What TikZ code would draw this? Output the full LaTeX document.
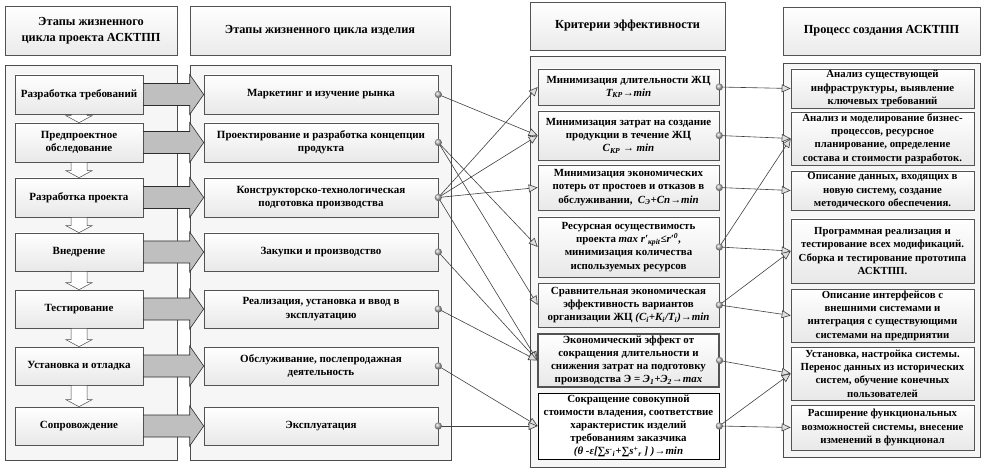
\documentclass[tikz,border=0pt]{standalone}
\usepackage{fontspec}
\setmainfont{Liberation Serif}
\usetikzlibrary{arrows.meta,calc,shadows}
\tikzset{
  shad/.style={drop shadow={shadow xshift=1.3pt,shadow yshift=-1.3pt,fill=gray!70,opacity=0.5}},
  hdr/.style={draw=gray!65!black, line width=0.6pt, top color=white, bottom color=gray!16, shad,
    align=center, inner sep=1pt, font=\fontsize{12.3}{15.5}\selectfont\bfseries},
  cont/.style={draw=gray!60!black, line width=0.6pt, fill=gray!7, shad},
  box/.style={draw=gray!65!black, line width=0.6pt, top color=white, bottom color=gray!18, shad,
    align=center, inner xsep=1pt, inner ysep=0pt, font=\fontsize{11}{13.3}\selectfont\bfseries},
  kbox/.style={box, font=\fontsize{10.9}{13.2}\selectfont\bfseries},
  pbox/.style={box, font=\fontsize{10.8}{13.3}\selectfont\bfseries},
  bigarr/.style={draw=gray!35!black, line width=0.6pt, fill=gray!50},
  downarr/.style={draw=gray!60!black, line width=0.5pt, fill=white},
  con/.style={draw=gray!50!black, line width=0.6pt, -{Triangle[length=9pt,width=8pt,fill=gray!25]}},
  dot/.style={ball color=gray!55}
}
\begin{document}
\begin{tikzpicture}[x=1pt,y=-1pt]
\useasboundingbox (0,0) rectangle (988,473);
% headers
\node[hdr, minimum width=172pt, minimum height=49pt] (h1) at (91,30.5) {Этапы жизненного\\цикла проекта АСКТПП};
\node[hdr, minimum width=260pt, minimum height=49pt] (h2) at (320,30.5) {Этапы жизненного цикла изделия};
\node[hdr, minimum width=195pt, minimum height=48pt] (h3) at (627.5,26) {Критерии эффективности};
\node[hdr, minimum width=197pt, minimum height=48pt] (h4) at (881.5,31) {Процесс создания АСКТПП};
% containers
\node[cont, minimum width=172pt, minimum height=395pt] (c1) at (91,262.5) {};
\node[cont, minimum width=261pt, minimum height=395pt] (c2) at (320.5,262.5) {};
\node[cont, minimum width=195pt, minimum height=411pt] (c3) at (627.5,261.5) {};
\node[cont, minimum width=197pt, minimum height=394pt] (c4) at (881.5,260) {};
% column 1
\node[box, minimum width=128pt, minimum height=39pt] (a1) at (79,94.5) {Разработка требований};
\node[box, minimum width=128pt, minimum height=39pt] (a2) at (79,142.5) {Предпроектное\\обследование};
\node[box, minimum width=128pt, minimum height=39pt] (a3) at (79,197.5) {Разработка проекта};
\node[box, minimum width=128pt, minimum height=38pt] (a4) at (79,252) {Внедрение};
\node[box, minimum width=128pt, minimum height=38pt] (a5) at (79,309) {Тестирование};
\node[box, minimum width=128pt, minimum height=38pt] (a6) at (79,366) {Установка и отладка};
\node[box, minimum width=128pt, minimum height=38pt] (a7) at (79,426) {Сопровождение};
% column 2
\node[box, minimum width=234pt, minimum height=39pt] (b1) at (321,94.5) {Маркетинг и изучение рынка};
\node[box, minimum width=234pt, minimum height=39pt] (b2) at (321,142.5) {Проектирование и разработка концепции\\продукта};
\node[box, minimum width=234pt, minimum height=39pt] (b3) at (321,197.5) {Конструкторско-технологическая\\подготовка производства};
\node[box, minimum width=234pt, minimum height=38pt] (b4) at (321,252) {Закупки и производство};
\node[box, minimum width=234pt, minimum height=38pt] (b5) at (321,309) {Реализация, установка и ввод в\\эксплуатацию};
\node[box, minimum width=234pt, minimum height=38pt] (b6) at (321,366) {Обслуживание, послепродажная\\деятельность};
\node[box, minimum width=234pt, minimum height=38pt] (b7) at (321,426) {Эксплуатация};
% column 3
\node[kbox, minimum width=181pt, minimum height=36pt] (k1) at (628.5,87) {Минимизация длительности ЖЦ\\\textit{T\textsubscript{КР}→min}};
\node[kbox, minimum width=181pt, minimum height=49pt] (k2) at (628.5,135.5) {Минимизация затрат на создание\\продукции в течение ЖЦ\\\textit{C\textsubscript{КР} → min}};
\node[kbox, minimum width=181pt, minimum height=45pt] (k3) at (628.5,187.5) {Минимизация экономических\\потерь от простоев и отказов в\\обслуживании, \ \textit{C\textsubscript{Э}+Cп→min}};
\node[kbox, minimum width=181pt, minimum height=60pt] (k4) at (628.5,247) {Ресурсная осуществимость\\проекта \textit{max r′\textsubscript{крit}≤r′\textsuperscript{0}},\\минимизация количества\\используемых ресурсов};
\node[kbox, minimum width=181pt, minimum height=44pt] (k5) at (628.5,305) {Сравнительная экономическая\\эффективность вариантов\\организации ЖЦ \textit{(C\textsubscript{i}+K\textsubscript{i}/T\textsubscript{i})→min}};
\node[kbox, line width=1.1pt, minimum width=181pt, minimum height=53pt] (k6) at (628.5,360.5) {Экономический эффект от\\сокращения длительности и\\снижения затрат на подготовку\\производства Э = \textit{Э\textsubscript{1}+Э\textsubscript{2}→max}};
\node[kbox, draw=black, top color=white, bottom color=white, minimum width=181pt, minimum height=66pt] (k7) at (628.5,426) {Сокращение совокупной\\стоимости владения, соответствие\\характеристик изделий\\требованиям заказчика\\\textit{(θ -ε[∑s\textsuperscript{-}\textsubscript{i}+∑s\textsuperscript{+}\textsubscript{r} ] )→min}};
% column 4
\node[pbox, minimum width=183pt, minimum height=39pt] (p1) at (882.5,88.5) {Анализ существующей\\инфраструктуры, выявление\\ключевых требований};
\node[pbox, minimum width=183pt, minimum height=53pt] (p2) at (882.5,138.5) {Анализ и моделирование бизнес-\\процессов, ресурсное\\планирование, определение\\состава и стоимости разработок.};
\node[pbox, minimum width=183pt, minimum height=39pt] (p3) at (882.5,190.5) {Описание данных, входящих в\\новую систему, создание\\методического обеспечения.};
\node[pbox, minimum width=183pt, minimum height=64pt] (p4) at (882.5,251) {Программная реализация и\\тестирование всех модификаций.\\Сборка и тестирование прототипа\\АСКТПП.};
\node[pbox, minimum width=183pt, minimum height=53pt] (p5) at (882.5,315.5) {Описание интерфейсов с\\внешними системами и\\интеграция с существующими\\системами на предприятии};
\node[pbox, minimum width=183pt, minimum height=53pt] (p6) at (882.5,373.5) {Установка, настройка системы.\\Перенос данных из исторических\\систем, обучение конечных\\пользователей};
\node[pbox, minimum width=183pt, minimum height=45pt] (p7) at (882.5,427.5) {Расширение функциональных\\возможностей системы, внесение\\изменений в функционал};
% small down arrows
\foreach \i/\j in {1/2,2/3,3/4,4/5,5/6,6/7}
  \draw[downarr] ($(a\i.south)+(-8,0)$) -- ($(a\j.north)+(-8,-7)$) -- ($(a\j.north)+(-13,-7)$) -- (a\j.north)
     -- ($(a\j.north)+(13,-7)$) -- ($(a\j.north)+(8,-7)$) -- ($(a\i.south)+(8,0)$) -- cycle;
% big arrows
\foreach \i in {1,...,7}
  \draw[bigarr] ($(a\i.east)+(0,-11)$) -- ($(b\i.west)+(-14,-11)$) -- ($(b\i.west)+(-14,-20)$) -- (b\i.west)
     -- ($(b\i.west)+(-14,20)$) -- ($(b\i.west)+(-14,11)$) -- ($(a\i.east)+(0,11)$) -- cycle;
% connectors
\foreach \s/\t in {b1/k2,b2/k4,b2/k5,b3/k1,b3/k2,b3/k3,b3/k6,b4/k6,b5/k6,b6/k7,b7/k7,
                   k1/p1,k2/p2,k3/p3,k4/p2,k4/p4,k5/p4,k5/p5,k6/p6,k7/p6,k7/p7}
  \draw[con] (\s.east) -- (\t.west);
\foreach \n in {b1,b2,b3,b4,b5,b6,b7,k1,k2,k3,k4,k5,k6,k7}
  \shade[dot] (\n.east) circle (3.6pt);
\end{tikzpicture}
\end{document}
